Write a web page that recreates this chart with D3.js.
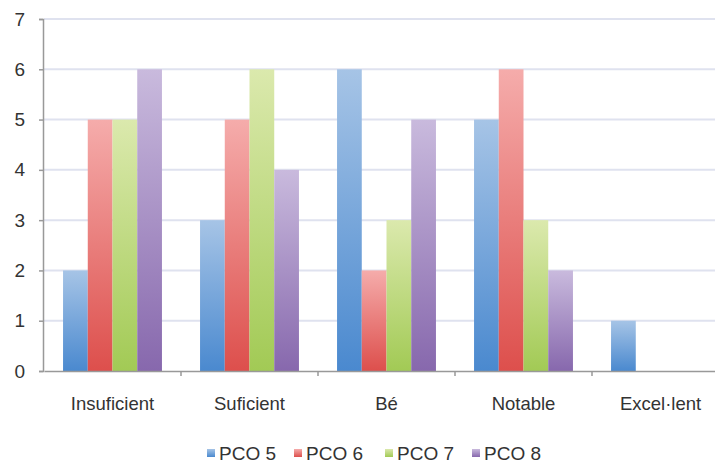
<!DOCTYPE html>
<html>
<head>
<meta charset="utf-8">
<script src="https://cdn.jsdelivr.net/npm/d3@7"></script>
<style>
  html, body { margin: 0; padding: 0; background: #fff; }
  svg { display: block; }
  text { font-family: "Liberation Sans", Arial, Helvetica, sans-serif; fill: #333; }
</style>
</head>
<body>
<svg id="chart" width="715" height="463"></svg>
<script>
// Grade categories and the count for each PCO in each category
const categories = ["Insuficient", "Suficient", "Bé", "Notable", "Excel·lent"];
const seriesNames = ["PCO 5", "PCO 6", "PCO 7", "PCO 8"];
const pco5 = [2, 3, 6, 5, 1];
const pco6 = [5, 5, 2, 6, 0];
const pco7 = [5, 6, 3, 3, 0];
const pco8 = [6, 4, 5, 2, 0];
const yTicks = [0, 1, 2, 3, 4, 5, 6, 7];

const seriesValues = [pco5, pco6, pco7, pco8];
// light top / dark bottom for each series
const colors = [
  ["#a6c4e6", "#4a89cf"],
  ["#f5acab", "#dd4f4c"],
  ["#dbe9ad", "#a2ca55"],
  ["#c9badd", "#8768ad"]
];

const svg = d3.select("#chart");
const margin = { left: 44, top: 19, bottom: 92 };
const bandW = 137;
const plotRight = margin.left + bandW * categories.length;
const height = 463;

const x = d3.scaleBand().domain(categories).range([margin.left, plotRight]).padding(0);
const x1 = d3.scaleBand().domain(seriesNames).range([0, x.bandwidth()]).paddingInner(0).paddingOuter(0.77);
const y = d3.scaleLinear().domain([0, 7]).range([height - margin.bottom, margin.top]);

const defs = svg.append("defs");
colors.forEach((c, i) => {
  const g = defs.append("linearGradient")
    .attr("id", "grad" + i)
    .attr("x1", 0).attr("y1", 0).attr("x2", 0).attr("y2", 1);
  g.append("stop").attr("offset", "0%").attr("stop-color", c[0]);
  g.append("stop").attr("offset", "100%").attr("stop-color", c[1]);
});

// horizontal gridlines
svg.append("g")
  .selectAll("line")
  .data(yTicks.filter(t => t > 0))
  .join("line")
  .attr("x1", margin.left)
  .attr("x2", 715)
  .attr("y1", d => y(d))
  .attr("y2", d => y(d))
  .attr("stroke", "#dfe2ef")
  .attr("stroke-width", 2);

// bars
const groups = svg.append("g")
  .selectAll("g")
  .data(categories)
  .join("g")
  .attr("transform", d => `translate(${x(d)},0)`);

groups.selectAll("rect")
  .data((d, ci) => seriesNames.map((s, si) => ({ s, si, v: seriesValues[si][ci] })))
  .join("rect")
  .filter(d => d.v > 0)
  .attr("x", d => x1(d.s))
  .attr("width", x1.bandwidth())
  .attr("y", d => y(d.v))
  .attr("height", d => y(0) - y(d.v))
  .attr("fill", d => `url(#grad${d.si})`);

// y axis
const yAxis = d3.axisLeft(y).tickValues(yTicks).tickFormat(d3.format("d")).tickSize(4).tickPadding(14);
const gy = svg.append("g")
  .attr("transform", `translate(${margin.left - 1},0)`)
  .call(yAxis);
gy.select(".domain").attr("stroke", "#999").attr("stroke-width", 1.5);
gy.selectAll(".tick line").attr("stroke", "#999").attr("stroke-width", 1.5);
gy.selectAll(".tick text")
  .style("font-size", "19px")
  .attr("fill", "#333")
  .style("font-family", "\"Liberation Sans\", Arial, sans-serif");

// x axis
const xAxis = d3.axisBottom(x).tickSize(0).tickPadding(26);
const gx = svg.append("g")
  .attr("transform", `translate(0,${y(0)})`)
  .call(xAxis);
gx.select(".domain").attr("stroke", "#999").attr("stroke-width", 1.5);
gx.selectAll(".tick text")
  .style("font-size", "18.5px")
  .attr("fill", "#333")
  .style("font-family", "\"Liberation Sans\", Arial, sans-serif");
// category boundary ticks
gx.append("g")
  .selectAll("line")
  .data(categories.slice(1))
  .join("line")
  .attr("x1", d => x(d))
  .attr("x2", d => x(d))
  .attr("y1", 0)
  .attr("y2", 5)
  .attr("stroke", "#999")
  .attr("stroke-width", 1.5);

// legend
const legendX = [207, 294, 385, 472];
const legend = svg.append("g");
seriesNames.forEach((s, i) => {
  const g = legend.append("g").attr("transform", `translate(${legendX[i]},0)`);
  g.append("rect")
    .attr("x", 0).attr("y", 449)
    .attr("width", 8).attr("height", 8)
    .attr("fill", `url(#grad${i})`);
  g.append("text")
    .attr("x", 12).attr("y", 460)
    .style("font-size", "19px")
    .text(s);
});
</script>
</body>
</html>
